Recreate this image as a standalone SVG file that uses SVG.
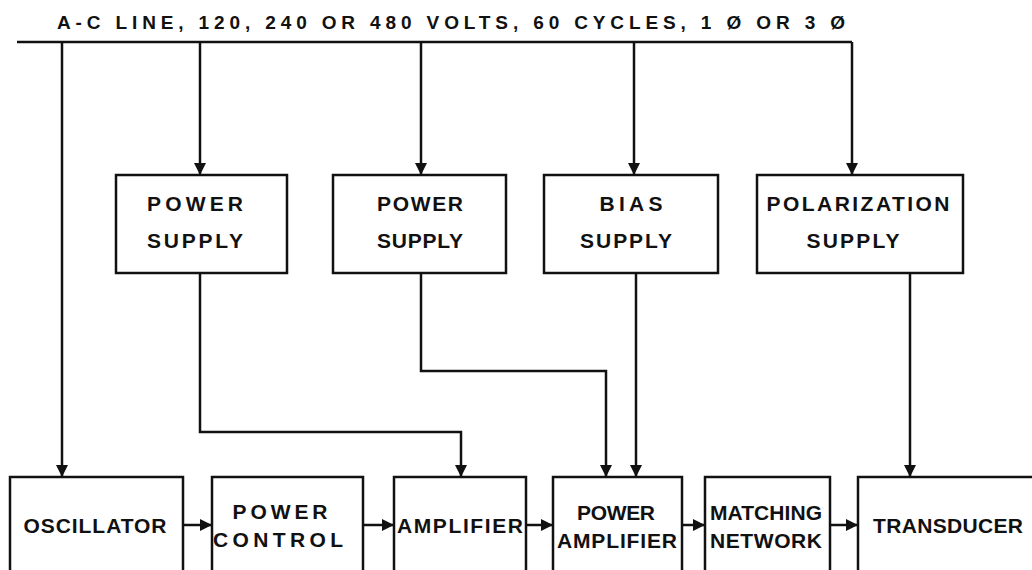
<svg xmlns="http://www.w3.org/2000/svg" width="1032" height="570" viewBox="0 0 1032 570">
<style>
.box{fill:#fff;stroke:#111;stroke-width:2.5}
.ln{fill:none;stroke:#111;stroke-width:2.5}
text{font-family:"Liberation Sans",Arial,sans-serif;font-weight:bold;font-size:21px;fill:#111;text-anchor:middle}
#title{font-size:19px}
</style>
<defs>
<marker id="ah" viewBox="0 0 10 10" refX="10" refY="5" markerWidth="5" markerHeight="5" orient="auto" markerUnits="strokeWidth">
<path d="M0,0 L10,5 L0,10 z" fill="#111"/>
</marker>
</defs>
<rect width="1032" height="570" fill="#fff"/>
<text id="title" x="451" y="29" textLength="788" lengthAdjust="spacing">A-C LINE, 120, 240 OR 480 VOLTS, 60 CYCLES, 1 Ø OR 3 Ø</text>
<g id="connectors">
<path class="ln" d="M17,42 H852"/>
<path class="ln" d="M62,42 V477" marker-end="url(#ah)"/>
<path class="ln" d="M200,42 V175" marker-end="url(#ah)"/>
<path class="ln" d="M421,42 V175" marker-end="url(#ah)"/>
<path class="ln" d="M634,42 V175" marker-end="url(#ah)"/>
<path class="ln" d="M852,42 V175" marker-end="url(#ah)"/>
<path class="ln" d="M200,273 V432 H461 V477" marker-end="url(#ah)"/>
<path class="ln" d="M421,273 V371 H606 V477" marker-end="url(#ah)"/>
<path class="ln" d="M636,273 V477" marker-end="url(#ah)"/>
<path class="ln" d="M910,273 V477" marker-end="url(#ah)"/>
<path class="ln" d="M183,525 H212" marker-end="url(#ah)"/>
<path class="ln" d="M363,525 H394" marker-end="url(#ah)"/>
<path class="ln" d="M526,525 H553" marker-end="url(#ah)"/>
<path class="ln" d="M682,525 H705" marker-end="url(#ah)"/>
<path class="ln" d="M830,525 H858" marker-end="url(#ah)"/>
</g>
<g id="ps1"><rect class="box" x="116" y="175" width="171" height="98"/>
<text x="195" y="211" textLength="96" lengthAdjust="spacing">POWER</text>
<text x="195" y="248" textLength="96" lengthAdjust="spacing">SUPPLY</text></g>
<g id="ps2"><rect class="box" x="333" y="175" width="173" height="98"/>
<text x="420" y="211" textLength="86" lengthAdjust="spacing">POWER</text>
<text x="420" y="248" textLength="86" lengthAdjust="spacing">SUPPLY</text></g>
<g id="bias"><rect class="box" x="544" y="175" width="174" height="98"/>
<text x="631" y="211" textLength="63" lengthAdjust="spacing">BIAS</text>
<text x="626" y="248" textLength="92" lengthAdjust="spacing">SUPPLY</text></g>
<g id="pol"><rect class="box" x="757" y="175" width="206" height="98"/>
<text x="858" y="211" textLength="183" lengthAdjust="spacing">POLARIZATION</text>
<text x="853" y="248" textLength="93" lengthAdjust="spacing">SUPPLY</text></g>
<g id="osc"><rect class="box" x="10" y="477" width="173" height="100"/>
<text x="95" y="533" textLength="143" lengthAdjust="spacing">OSCILLATOR</text></g>
<g id="pc"><rect class="box" x="212" y="477" width="151" height="100"/>
<text x="280" y="519" textLength="95" lengthAdjust="spacing">POWER</text>
<text x="278" y="547" textLength="130" lengthAdjust="spacing">CONTROL</text></g>
<g id="amp"><rect class="box" x="394" y="477" width="132" height="100"/>
<text x="460" y="533" textLength="126" lengthAdjust="spacing">AMPLIFIER</text></g>
<g id="pa"><rect class="box" x="553" y="477" width="129" height="100"/>
<text x="616" y="520" textLength="78" lengthAdjust="spacing">POWER</text>
<text x="617" y="548" textLength="120" lengthAdjust="spacing">AMPLIFIER</text></g>
<g id="mn"><rect class="box" x="705" y="477" width="125" height="100"/>
<text x="766" y="520" textLength="112" lengthAdjust="spacing">MATCHING</text>
<text x="766" y="548" textLength="112" lengthAdjust="spacing">NETWORK</text></g>
<g id="tr"><rect class="box" x="858" y="477" width="190" height="100"/>
<text x="948" y="533" textLength="150" lengthAdjust="spacing">TRANSDUCER</text></g>
</svg>
